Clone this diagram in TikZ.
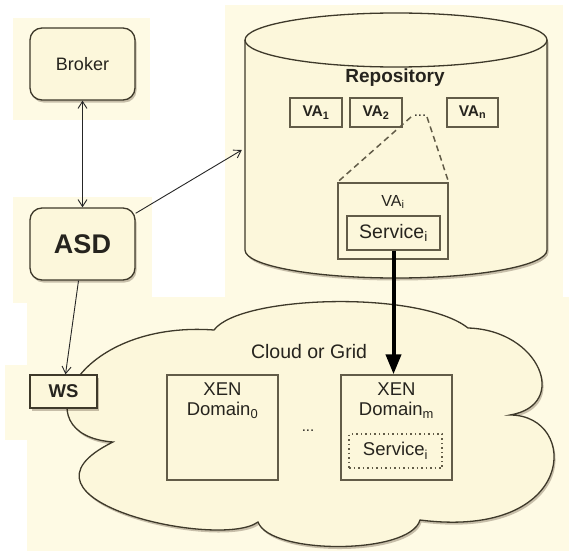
\documentclass[tikz,border=0pt]{standalone}
\usepackage{fontspec}
\setmainfont{Liberation Sans}
\usetikzlibrary{arrows.meta,shadows}
\definecolor{creamA}{RGB}{252,247,219}
\definecolor{creamB}{RGB}{254,250,228}
\definecolor{edgeD}{RGB}{62,57,42}
\definecolor{edgeL}{RGB}{98,92,72}
\definecolor{inkT}{RGB}{38,36,30}
\begin{document}
\begin{tikzpicture}[x=1pt,y=-1pt,
  shd/.style={drop shadow={shadow xshift=1.5pt,shadow yshift=-2.5pt,fill=black!70!brown,opacity=0.28}},
  rbox/.style={draw=edgeD,line width=1.3pt,fill=creamA,rounded corners=12pt,shd,inner sep=0pt,text=inkT},
  sbox/.style={draw=edgeD,line width=1.3pt,fill=creamA,shd,inner sep=0pt,text=inkT},
  ibox/.style={draw=edgeL,line width=1.4pt,inner sep=0pt,text=inkT},
  lbl/.style={text=inkT,inner sep=0pt},
  thinarrow/.style={draw=black!85,line width=0.9pt},
  barb/.tip={Straight Barb[length=7pt,width=9pt]},
  dashline/.style={draw=edgeL,line width=1.5pt,dash pattern=on 6pt off 4pt},
  f15/.style={font=\fontsize{15}{17}\selectfont},
  f18/.style={font=\fontsize{18.5}{20.5}\selectfont},
  f19/.style={font=\fontsize{19.5}{21}\selectfont}
]
\useasboundingbox (0,0) rectangle (569,551);
% backgrounds
\fill[white] (0,0) rectangle (569,551);
\fill[creamB] (13,18) rectangle (150,120);
\fill[creamB] (13,197) rectangle (152,303);
\fill[creamB] (225,5) rectangle (563,297);
\fill[creamB] (27,297) rectangle (569,551);
\fill[creamB] (5,365) rectangle (110,440);

% cloud
\path[fill=creamA,draw=edgeD,line width=1.3pt,shd]
  (214,330) .. controls (240,295) and (420,290) .. (468,328)
  .. controls (540,330) and (570,405) .. (510,415)
  .. controls (580,415) and (578,540) .. (420,520)
  .. controls (410,555) and (270,555) .. (258,522)
  .. controls (220,550) and (-5,500) .. (113,442)
  .. controls (20,435) and (75,320) .. (214,330) -- cycle;

% cylinder
\path[fill=creamA,draw=edgeD,line width=1.3pt,shd]
  (245,40) -- (245,250) .. controls (245,265.5) and (312.6,278) .. (396,278)
  .. controls (479.4,278) and (547,265.5) .. (547,250) -- (547,40)
  .. controls (547,25.1) and (479.4,13) .. (396,13)
  .. controls (312.6,13) and (245,25.1) .. (245,40) -- cycle;
\draw[edgeD,line width=1.3pt] (245,40) .. controls (245,54.9) and (312.6,67) .. (396,67)
  .. controls (479.4,67) and (547,54.9) .. (547,40);
\node[minimum width=302,minimum height=210,inner sep=0pt] (repo) at (396,145) {};
\node[lbl,font=\bfseries\fontsize{19}{21}\selectfont] (repot) at (395,78) {Repository};

% VA boxes
\node[ibox,minimum width=52,minimum height=29,font=\bfseries\fontsize{15.5}{17}\selectfont] (va1) at (316,112.5) {VA\textsubscript{1}};
\node[ibox,minimum width=52,minimum height=29,font=\bfseries\fontsize{15.5}{17}\selectfont] (va2) at (376,112.5) {VA\textsubscript{2}};
\node[lbl,f15] (dots1) at (420,116) {...};
\node[ibox,minimum width=51,minimum height=29,font=\bfseries\fontsize{15.5}{17}\selectfont] (van) at (472.5,112.5) {VA\textsubscript{n}};
\node[ibox,minimum width=110,minimum height=76] (vai) at (393,221) {};
\node[lbl,font=\fontsize{16}{18}\selectfont] (vait) at (393,202) {VA\textsubscript{i}};
\node[ibox,minimum width=93,minimum height=34,f19] (servi) at (393.5,233) {Service\textsubscript{i}};
\draw[dashline] ([xshift=-9pt]dots1.south) -- (vai.north west);
\draw[dashline] ([xshift=7pt]dots1.south) -- (vai.north east);

% left boxes
\node[rbox,minimum width=105,minimum height=72,font=\fontsize{18}{20}\selectfont] (broker) at (82.5,64) {Broker};
\node[rbox,minimum width=105,minimum height=72,font=\bfseries\fontsize{27}{29}\selectfont] (asd) at (82.5,244) {ASD};
\node[sbox,minimum width=67,minimum height=33,font=\bfseries\fontsize{18.5}{20}\selectfont] (ws) at (63.5,391.5) {WS};

% cloud contents
\node[lbl,f19] (cloudt) at (309,352) {Cloud or Grid};
\node[ibox,minimum width=111,minimum height=105] (xen0) at (222.5,427.5) {};
\node[lbl,f18,align=center,anchor=north] (xen0t) at ([yshift=-8pt]xen0.north) {XEN\\Domain\textsubscript{0}};
\node[lbl,f15] (dots2) at (308,431) {...};
\node[ibox,minimum width=111,minimum height=105] (xenm) at (396.5,427.5) {};
\node[lbl,f18,align=center,anchor=north] (xenmt) at ([yshift=-8pt]xenm.north) {XEN\\Domain\textsubscript{m}};
\node[draw=edgeL,line width=1.3pt,dash pattern=on 1.5pt off 3pt,inner sep=0pt,text=inkT,minimum width=93,minimum height=34,f18] (servm) at (395.5,451) {Service\textsubscript{i}};

% connectors
\draw[thinarrow,barb-barb] (broker.south) -- (asd.north);
\draw[thinarrow,-barb] (asd.30) -- ([yshift=-5pt,xshift=-3pt]repo.west);
\draw[thinarrow,-barb] ([xshift=-4pt]asd.south) -- ([xshift=2pt]ws.north);
\draw[line width=4pt,-{Triangle[length=20pt,width=15pt]}] (servi.south) -- (servi.south |- xenm.north);
\end{tikzpicture}
\end{document}
